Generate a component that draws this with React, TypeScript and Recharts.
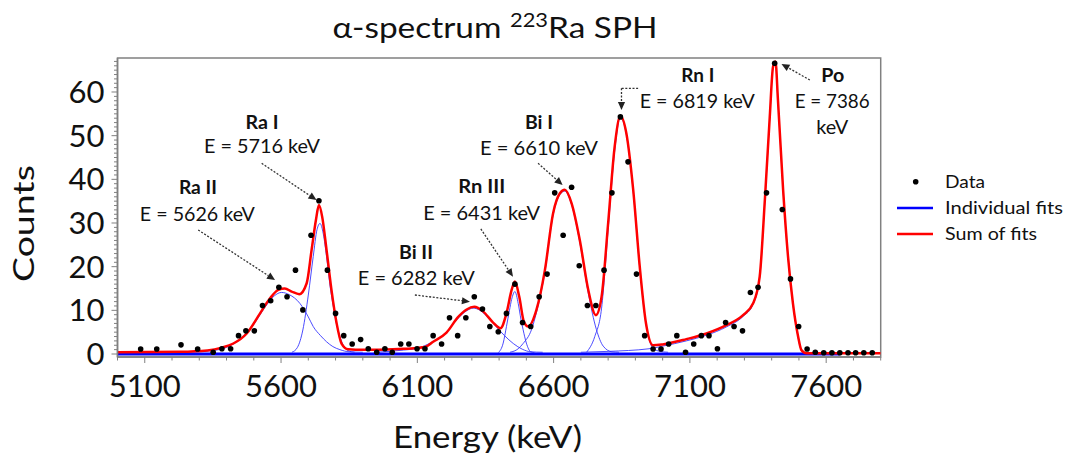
import React from 'react';
import {
  ComposedChart,
  Line,
  Scatter,
  XAxis,
  YAxis,
  ReferenceArea,
  ReferenceLine,
  ReferenceDot,
} from 'recharts';

const FONT = "Lato, 'Open Sans', sans-serif";

// ---------------- measured data points ----------------
const dataEnergy = [
  5085, 5144, 5233, 5294, 5351, 5383, 5415, 5444, 5471, 5502, 5532, 5562, 5592, 5622, 5653,
  5680, 5710, 5739, 5770, 5800, 5830, 5861, 5892, 5920, 5951, 5981, 6008, 6039, 6069, 6099,
  6128, 6158, 6189, 6218, 6248, 6278, 6309, 6339, 6366, 6397, 6427, 6458, 6486, 6516, 6547,
  6576, 6604, 6635, 6666, 6694, 6724, 6755, 6785, 6814, 6845, 6873, 6904, 6934, 6965, 6994,
  7022, 7052, 7084, 7114, 7142, 7170, 7201, 7231, 7262, 7293, 7322, 7350, 7381, 7411, 7439,
  7469, 7499, 7530, 7560, 7591, 7621, 7650, 7680, 7708, 7738, 7769,
];
const dataCounts = [
  1.15, 1.15, 2.1, 1.15, 0.4, 1.2, 1.2, 4.2, 5.3, 5.3, 11.1, 12.2, 15.3, 13.1, 19.2,
  10.1, 27.2, 35.1, 19.2, 9.3, 4.2, 2.3, 3.3, 1.2, 0.4, 1.2, 0.4, 2.3, 2.3, 1.2,
  1.2, 4.2, 2.3, 8.3, 4.2, 8.3, 13.1, 10.3, 6.3, 5.1, 9.3, 16.0, 7.2, 6.3, 13.1,
  18.3, 36.9, 27.2, 38.2, 20.2, 11.1, 11.1, 19.2, 36.9, 54.3, 44.0, 18.3, 4.2, 1.15, 1.15,
  2.3, 4.2, 0.4, 2.3, 4.2, 4.2, 1.2, 7.2, 6.3, 5.3, 14.1, 15.3, 36.9, 66.6, 33.1,
  17.2, 6.3, 1.15, 0.4, 0.3, 0.3, 0.3, 0.3, 0.3, 0.3, 0.3,
];

// ---------------- sum of fits (red) ----------------
const sumEnergy = [
  5000, 5230, 5330, 5383, 5425, 5474, 5523, 5559, 5590, 5614, 5639, 5667, 5694, 5712, 5728,
  5739, 5751, 5767, 5785, 5804, 5822, 5846, 5900, 5960, 6050, 6097, 6128, 6158, 6207, 6250,
  6281, 6309, 6342, 6378, 6405, 6427, 6446, 6458, 6474, 6491, 6507, 6537, 6568, 6598, 6623,
  6641, 6666, 6696, 6727, 6755, 6776, 6800, 6824, 6845, 6867, 6892, 6916, 6939, 6965, 7000,
  7087, 7161, 7234, 7295, 7332, 7356, 7375, 7393, 7405, 7414, 7423, 7442, 7460, 7478, 7497,
  7509, 7527, 7800,
];
const sumCounts = [
  0.4, 0.5, 0.8, 1.45, 2.4, 4.7, 9.3, 12.7, 14.7, 15.0, 14.3, 13.7, 16.2, 23.8, 30.7,
  34.1, 31.4, 23.8, 14.7, 7.0, 2.4, 1.1, 0.95, 1.0, 1.2, 1.4, 1.6, 2.8, 4.9, 8.5,
  10.2, 10.8, 9.7, 7.2, 5.9, 9.3, 14.7, 16.6, 13.1, 7.4, 6.3, 10.1, 19.2, 32.2, 36.8,
  37.6, 34.5, 26.1, 14.7, 8.9, 13.1, 29.9, 47.5, 54.5, 50.5, 37.6, 20.0, 7.0, 2.0, 2.2,
  3.4, 4.7, 6.6, 8.9, 11.6, 17.7, 35.3, 54.3, 65.8, 67.0, 58.2, 37.6, 22.3, 11.6, 4.0,
  0.9, 0.15, 0.15,
];

// ---------------- individual fits (blue) ----------------
const raIIEnergy = [5250, 5350, 5400, 5450, 5500, 5540, 5575, 5602, 5630, 5669, 5700, 5718, 5745, 5767, 5790, 5816, 5850, 5900];
const raIICounts = [0.4, 0.8, 1.5, 3.4, 6.8, 10.6, 13.3, 14.1, 13.6, 11.6, 8.5, 6.3, 4.2, 2.8, 1.7, 1.0, 0.5, 0.4];

const raIEnergy = [5640, 5660, 5680, 5700, 5718, 5732, 5743, 5755, 5767, 5780, 5792, 5805, 5816, 5830, 5845, 5870];
const raICounts = [0.4, 1.5, 5.5, 13.5, 22.3, 28.5, 29.9, 27.5, 22.3, 15.5, 10.8, 6.5, 4.0, 1.8, 0.8, 0.4];

const biIIEnergy = [5950, 6050, 6100, 6150, 6200, 6250, 6281, 6305, 6330, 6360, 6390, 6420, 6452, 6485, 6516, 6560];
const biIICounts = [0.4, 0.9, 1.3, 2.6, 4.6, 8.2, 9.9, 10.5, 10.0, 8.3, 6.2, 4.2, 2.4, 1.1, 0.5, 0.4];

const rnIIIEnergy = [6397, 6415, 6427, 6438, 6446, 6458, 6470, 6480, 6488, 6500, 6516, 6530];
const rnIIICounts = [0.3, 2.5, 6.3, 10.0, 12.5, 14.3, 11.6, 8.0, 5.6, 2.5, 0.5, 0.3];

const biIEnergy = [6440, 6470, 6488, 6519, 6537, 6568, 6598, 6623, 6641, 6666, 6696, 6727, 6757, 6782, 6814, 6840];
const biICounts = [0.4, 1.2, 2.4, 5.6, 9.5, 18.8, 31.8, 36.5, 37.3, 34.2, 25.6, 14.0, 5.6, 1.8, 0.5, 0.4];

const rnIEnergy = [6721, 6751, 6776, 6800, 6824, 6845, 6867, 6892, 6916, 6939, 6953, 6965, 6990, 7020];
const rnICounts = [0.4, 4.0, 10.5, 28.5, 46.5, 54.2, 50.2, 37.3, 19.7, 6.8, 2.8, 1.3, 0.6, 0.4];

const poEnergy = [6700, 6800, 6950, 7000, 7087, 7161, 7234, 7295, 7332, 7356, 7375, 7393, 7405, 7414, 7423, 7442, 7460, 7478, 7497, 7509, 7527, 7560];
const poCounts = [0.4, 0.6, 1.2, 1.8, 3.0, 4.3, 6.2, 8.6, 11.4, 17.5, 35.1, 54.1, 65.6, 66.8, 58.0, 37.4, 22.1, 11.4, 3.8, 0.8, 0.1, 0.05];

const baseEnergy = [5000, 7650];
const baseCounts = [0, 0];

// ---------------- axes ----------------
const xMajorTicks = [5100, 5600, 6100, 6600, 7100, 7600];
const yMajorTicks = [0, 10, 20, 30, 40, 50, 60];
const xAllTicks = [
  5000, 5100, 5200, 5300, 5400, 5500, 5600, 5700, 5800, 5900, 6000, 6100, 6200, 6300, 6400,
  6500, 6600, 6700, 6800, 6900, 7000, 7100, 7200, 7300, 7400, 7500, 7600, 7700, 7800,
];
const yAllTicks = Array.from({ length: 68 }, (_, i) => i);
const xDomain = [5000, 7800];
const yDomain = [-0.687, 67.786];

// ---------------- annotations ----------------
const peakNames = ['Ra II', 'Ra I', 'Bi II', 'Rn III', 'Bi I', 'Rn I', 'Po'];
const peakTexts = ['E = 5626 keV', 'E = 5716 keV', 'E = 6282 keV', 'E = 6431 keV', 'E = 6610 keV', 'E = 6819 keV', 'E = 7386'];
const nameAnchors = [[5295, 36.64], [5530, 51.64], [6095, 21.87], [6336, 36.76], [6546, 51.64], [7129, 62.29], [7624, 62.29]];
const textAnchors = [[5293, 30.57], [5530, 45.92], [6096, 15.8], [6336, 30.69], [6546, 45.57], [7127, 56.34], [7622, 56.34]];
const nameWidths = [38, 33, 34, 47, 28, 33, 23];
const textWidths = [115, 116, 117, 117, 118, 115, 75];
const extraTextAnchor = [7622, 50.38];

const arrowFrom = [[5296, 28.4], [5529, 43.67], [6091, 13.51], [6333, 28.63], [6543, 43.67], [6910, 60.85], [6849, 60.85], [7540, 62.75]];
const arrowTo = [[5578, 16.95], [5730, 35.27], [6293, 11.98], [6451, 17.7], [6633, 38.7], [6849, 60.85], [6849, 55.88], [7436, 66.41]];
const arrowHead = [true, true, true, true, true, false, true, true];

const zip = (e: number[], c: number[]) => e.map((v, i) => ({ e: v, c: c[i] }));

const points = zip(dataEnergy, dataCounts);
const sumFit = zip(sumEnergy, sumCounts);
const individualFits = [
  zip(raIIEnergy, raIICounts),
  zip(raIEnergy, raICounts),
  zip(biIIEnergy, biIICounts),
  zip(rnIIIEnergy, rnIIICounts),
  zip(biIEnergy, biICounts),
  zip(rnIEnergy, rnICounts),
  zip(poEnergy, poCounts),
];
const baseline = zip(baseEnergy, baseCounts);

const AXIS_COLOR = '#808080';

const XTick = (props: any) => {
  const { x, y, payload } = props;
  const major = xMajorTicks.includes(payload.value);
  return (
    <g>
      <line x1={x} x2={x} y1={y} y2={y + (major ? 6 : 3.5)} stroke={AXIS_COLOR} strokeWidth={1} />
      {major && (
        <text x={x} y={y + 39.5} textAnchor="middle" fontFamily={FONT} fontSize={31} fill="#111">
          {payload.value}
        </text>
      )}
    </g>
  );
};

const YTick = (props: any) => {
  const { x, y, payload } = props;
  const major = yMajorTicks.includes(payload.value);
  return (
    <g>
      <line x1={x - (major ? 6 : 3.5)} x2={x} y1={y} y2={y} stroke={AXIS_COLOR} strokeWidth={1} />
      {major && (
        <text x={x - 13} y={y + 11} textAnchor="end" fontFamily={FONT} fontSize={31} fill="#111">
          {payload.value}
        </text>
      )}
    </g>
  );
};

const DotShape = (props: any) => {
  const { cx, cy } = props;
  if (cx == null || cy == null) return <g />;
  return <circle cx={cx} cy={cy} r={2.8} fill="#000" />;
};

const makeArrow = (head: boolean) => (p: any) => {
  const { x1, y1, x2, y2 } = p;
  const dx = x2 - x1;
  const dy = y2 - y1;
  const len = Math.hypot(dx, dy) || 1;
  const ux = dx / len;
  const uy = dy / len;
  const hl = 8;
  const hw = 3.6;
  const bx = x2 - ux * hl;
  const by = y2 - uy * hl;
  return (
    <g>
      <line
        x1={x1}
        y1={y1}
        x2={head ? bx : x2}
        y2={head ? by : y2}
        stroke="#333"
        strokeWidth={1.3}
        strokeDasharray="2 1.6"
      />
      {head && (
        <polygon
          points={`${x2},${y2} ${bx - uy * hw},${by + ux * hw} ${bx + uy * hw},${by - ux * hw}`}
          fill="#222"
        />
      )}
    </g>
  );
};

const makeText = (label: string, width: number, bold: boolean) => (p: any) => (
  <text
    x={p.cx}
    y={p.cy}
    textAnchor="middle"
    fontFamily={FONT}
    fontSize={19}
    fontWeight={bold ? 700 : 400}
    fill="#111"
    textLength={width}
    lengthAdjust="spacingAndGlyphs"
  >
    {label}
  </text>
);

export default function App() {
  return (
    <div style={{ position: 'absolute', left: 0, top: 0, width: 1072, height: 463, background: '#fff' }}>
      <ComposedChart
        width={1072}
        height={463}
        margin={{ top: 58, right: 191.3, bottom: 46, left: 0 }}
      >
        <XAxis
          type="number"
          dataKey="e"
          domain={xDomain}
          ticks={xAllTicks}
          interval={0}
          allowDataOverflow
          tickLine={false}
          tickSize={0}
          tickMargin={0}
          tick={XTick}
          height={60}
          axisLine={{ stroke: AXIS_COLOR, strokeWidth: 1.5 }}
        />
        <YAxis
          type="number"
          dataKey="c"
          domain={yDomain}
          ticks={yAllTicks}
          interval={0}
          allowDataOverflow
          tickLine={false}
          tickSize={0}
          tickMargin={0}
          tick={YTick}
          width={117.5}
          axisLine={{ stroke: AXIS_COLOR, strokeWidth: 1.5 }}
        />
        <ReferenceArea
          x1={xDomain[0]}
          x2={xDomain[1]}
          y1={yDomain[0]}
          y2={yDomain[1]}
          fill="none"
          fillOpacity={0}
          stroke={AXIS_COLOR}
          strokeWidth={1.5}
        />
        <Line
          data={baseline}
          dataKey="c"
          type="linear"
          stroke="#0000ff"
          strokeWidth={3}
          dot={false}
          isAnimationActive={false}
        />
        {individualFits.map((d, i) => (
          <Line
            key={i}
            data={d}
            dataKey="c"
            type="monotone"
            stroke="#2b2bff"
            strokeOpacity={0.85}
            strokeWidth={1}
            dot={false}
            isAnimationActive={false}
          />
        ))}
        <Line
          data={sumFit}
          dataKey="c"
          type="monotone"
          stroke="#ff0000"
          strokeWidth={2.5}
          dot={false}
          isAnimationActive={false}
        />
        <Scatter data={points} dataKey="c" shape={DotShape} isAnimationActive={false} />
        {arrowFrom.map((f, i) => (
          <ReferenceLine
            key={'a' + i}
            segment={[{ x: f[0], y: f[1] }, { x: arrowTo[i][0], y: arrowTo[i][1] }]}
            shape={makeArrow(arrowHead[i])}
          />
        ))}
        {peakNames.map((n, i) => (
          <ReferenceDot
            key={'n' + i}
            x={nameAnchors[i][0]}
            y={nameAnchors[i][1]}
            r={0}
            shape={makeText(n, nameWidths[i], true)}
          />
        ))}
        {peakTexts.map((t, i) => (
          <ReferenceDot
            key={'t' + i}
            x={textAnchors[i][0]}
            y={textAnchors[i][1]}
            r={0}
            shape={makeText(t, textWidths[i], false)}
          />
        ))}
        <ReferenceDot
          x={extraTextAnchor[0]}
          y={extraTextAnchor[1]}
          r={0}
          shape={makeText('keV', 32, false)}
        />
      </ComposedChart>
      <svg
        width={1072}
        height={463}
        style={{ position: 'absolute', left: 0, top: 0, pointerEvents: 'none' }}
      >
        <text
          x={495}
          y={38}
          textAnchor="middle"
          fontFamily={FONT}
          fontSize={29}
          fill="#111"
          textLength={325}
          lengthAdjust="spacingAndGlyphs"
        >
          α-spectrum{' '}
          <tspan dy={-11} fontSize={19}>
            223
          </tspan>
          <tspan dy={11}>Ra SPH</tspan>
        </text>
        <text
          x={487.5}
          y={448}
          textAnchor="middle"
          fontFamily={FONT}
          fontSize={31}
          fill="#111"
          textLength={189}
          lengthAdjust="spacingAndGlyphs"
        >
          Energy (keV)
        </text>
        <text
          transform="translate(34,223.5) rotate(-90)"
          textAnchor="middle"
          fontFamily={FONT}
          fontSize={29}
          fill="#111"
          textLength={117}
          lengthAdjust="spacingAndGlyphs"
        >
          Counts
        </text>
        {/* legend */}
        <circle cx={915.7} cy={181.7} r={2.8} fill="#000" />
        <line x1={897} x2={933} y1={208} y2={208} stroke="#0000ff" strokeWidth={2.5} />
        <line x1={897} x2={933} y1={234} y2={234} stroke="#ff0000" strokeWidth={2.5} />
        <text x={945} y={188} fontFamily={FONT} fontSize={17} fill="#111" textLength={40} lengthAdjust="spacingAndGlyphs">
          Data
        </text>
        <text x={945} y={214} fontFamily={FONT} fontSize={17} fill="#111" textLength={118} lengthAdjust="spacingAndGlyphs">
          Individual fits
        </text>
        <text x={945} y={240} fontFamily={FONT} fontSize={17} fill="#111" textLength={92} lengthAdjust="spacingAndGlyphs">
          Sum of fits
        </text>
      </svg>
    </div>
  );
}
